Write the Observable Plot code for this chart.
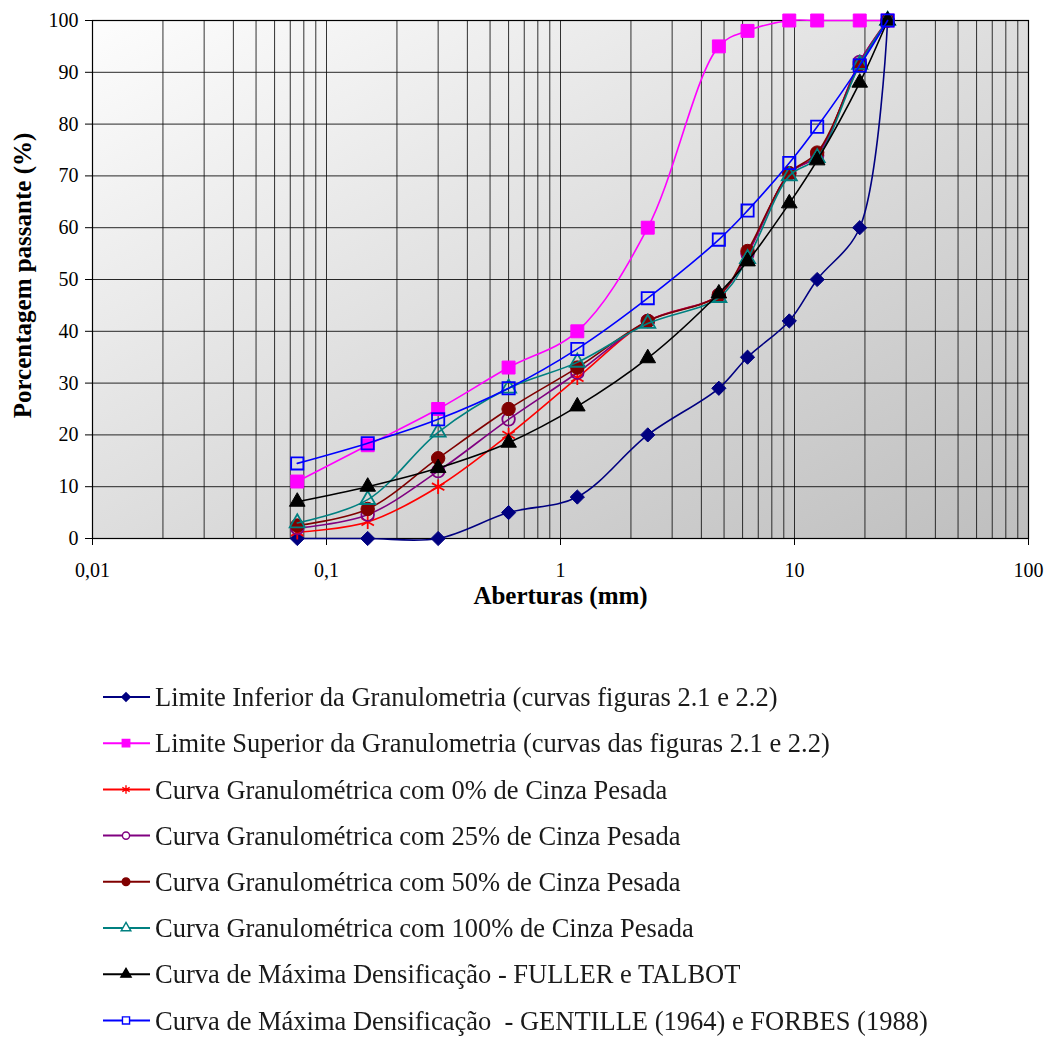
<!DOCTYPE html>
<html>
<head>
<meta charset="utf-8">
<script src="https://cdn.jsdelivr.net/npm/d3@7"></script>
<script src="https://cdn.jsdelivr.net/npm/@observablehq/plot@0.6"></script>
<style>
  body { margin: 0; background: #fff; }
  #chart svg { display: block; }
  #legend { display: block; filter: blur(0.35px); }
  #legend text { white-space: pre; }
</style>
</head>
<body>
<div id="chart"></div>
<script>
// Sieve openings (mm)
const aberturas = [0.075, 0.15, 0.3, 0.6, 1.18, 2.36, 4.75, 6.3, 9.5, 12.5, 19, 25];

// Percent passing for each curve
const limiteInferior = [0, 0, 0, 5, 8, 20, 29, 35, 42, 50, 60, 100];
const limiteSuperior = [11, 18, 25, 33, 40, 60, 95, 98, 100, 100, 100, 100];
const cinza0 = [1.2, 3.2, 10, 20, 31, 42, 47, 55, 70.5, 74, 92, 100];
const cinza25 = [2, 4.6, 13, 23, 32, 42, 47, 55, 70.5, 74, 92, 100];
const cinza50 = [2.5, 5.7, 15.5, 25, 33, 42, 47, 55.5, 70.5, 74.5, 91.5, 100];
const cinza100 = [3, 7.5, 20.5, 29, 34, 41.5, 46.5, 54, 70, 73.5, 91.5, 100];
const fullerTalbot = [7.1, 10, 13.6, 18.5, 25.5, 34.8, 47.3, 53.5, 64.7, 73, 88, 100];
const gentilleForbes = [14.5, 18.4, 23, 29, 36.6, 46.4, 57.7, 63.3, 72.5, 79.5, 91.3, 100];

const seriesNames = [
  "Limite Inferior da Granulometria (curvas figuras 2.1 e 2.2)",
  "Limite Superior da Granulometria (curvas das figuras 2.1 e 2.2)",
  "Curva Granulométrica com 0% de Cinza Pesada",
  "Curva Granulométrica com 25% de Cinza Pesada",
  "Curva Granulométrica com 50% de Cinza Pesada",
  "Curva Granulométrica com 100% de Cinza Pesada",
  "Curva de Máxima Densificação - FULLER e TALBOT",
  "Curva de Máxima Densificação  - GENTILLE (1964) e FORBES (1988)"
];
const seriesValues = [limiteInferior, limiteSuperior, cinza0, cinza25, cinza50, cinza100, fullerTalbot, gentilleForbes];

// Axis ticks and labels
const xTicks = [0.01, 0.1, 1, 10, 100];
const xTickLabels = ["0,01", "0,1", "1", "10", "100"];
const yTicks = [0, 10, 20, 30, 40, 50, 60, 70, 80, 90, 100];

// Marker / line styling per series
const styles = [
  {color: "#000080", symbol: "diamond2", fill: "#000080", r: 6.4, lr: 3.8},
  {color: "#ff00ff", symbol: "square", fill: "#ff00ff", r: 7.3, lr: 4.2},
  {color: "#ff0000", symbol: "asterisk", fill: "none", r: 6.8, lr: 4},
  {color: "#800080", symbol: "circle", fill: "none", r: 6.3, lr: 3.6},
  {color: "#800000", symbol: "circle", fill: "#800000", r: 6.7, lr: 3.8},
  {color: "#008080", symbol: "triangle", fill: "none", r: 5.6, lr: 3.6},
  {color: "#000000", symbol: "triangle", fill: "#000000", r: 5.8, lr: 3.8},
  {color: "#0000ff", symbol: "square", fill: "none", r: 6.9, lr: 4}
];

const series = seriesNames.map((name, k) => ({
  name,
  rows: aberturas.map((a, i) => ({abertura: a, passante: seriesValues[k][i]})),
  ...styles[k]
}));

// Log grid: every 1..9 multiple in each decade
const gridX = d3.scaleLog().domain([0.01, 100]).ticks();

const seriesMarks = series.flatMap(s => [
  Plot.line(s.rows, {x: "abertura", y: "passante", stroke: s.color, strokeWidth: 1.6, curve: "catmull-rom"}),
  Plot.dot(s.rows, {
    x: "abertura", y: "passante", symbol: s.symbol, r: s.r,
    fill: s.fill, stroke: s.color, strokeWidth: s.fill === "none" ? 1.8 : 1
  })
]);

const chart = Plot.plot({
  width: 1046,
  height: 625,
  marginLeft: 92,
  marginRight: 18,
  marginTop: 20,
  marginBottom: 87,
  style: {fontFamily: "'Liberation Serif', 'Times New Roman', serif", fontSize: "20px", color: "#000", background: "#fff"},
  x: {type: "log", domain: [0.01, 100], ticks: xTicks, tickFormat: d => xTickLabels[xTicks.indexOf(d)], tickSize: 7, tickPadding: 17, label: null},
  y: {domain: [0, 100], ticks: yTicks, tickSize: 7, tickPadding: 7, label: null},
  marks: [
    Plot.frame({fill: "url(#plotBg)"}),
    Plot.ruleX(gridX, {stroke: "#111", strokeWidth: 1, strokeOpacity: 0.85}),
    Plot.ruleY(yTicks, {stroke: "#111", strokeWidth: 1, strokeOpacity: 0.9}),
    Plot.frame({stroke: "#000", strokeWidth: 1.2}),
    ...seriesMarks,
    Plot.text(["Aberturas (mm)"], {text: d => d, frameAnchor: "bottom", textAnchor: "middle", dy: 65, fontWeight: "bold", fontSize: 25}),
    Plot.text(["Porcentagem passante (%)"], {text: d => d, frameAnchor: "left", textAnchor: "middle", dx: -70, dy: -4, rotate: -90, fontWeight: "bold", fontSize: 25})
  ]
});

// Diagonal light-to-grey background of the plotting area
d3.select(chart).insert("defs", ":first-child").html(`
  <linearGradient id="plotBg" x1="0" y1="0" x2="1" y2="1">
    <stop offset="0" stop-color="#fdfdfd"/>
    <stop offset="1" stop-color="#bebebe"/>
  </linearGradient>`);

document.getElementById("chart").appendChild(chart);

// Legend below the chart
const legendRowStart = 72, legendRowStep = 46.2;
const legend = d3.create("svg")
  .attr("id", "legend")
  .attr("width", 1046)
  .attr("height", 412);

const sym = name => ({
  diamond2: d3.symbolDiamond2, square: d3.symbolSquare, asterisk: d3.symbolAsterisk,
  circle: d3.symbolCircle, triangle: d3.symbolTriangle
})[name];

series.forEach((s, i) => {
  const g = legend.append("g").attr("transform", `translate(0,${legendRowStart + i * legendRowStep})`);
  g.append("line").attr("x1", 103).attr("x2", 150).attr("y1", 0).attr("y2", 0)
    .attr("stroke", s.color).attr("stroke-width", 2);
  g.append("path")
    .attr("transform", "translate(126,0)")
    .attr("d", d3.symbol(sym(s.symbol), Math.PI * s.lr * s.lr)())
    .attr("fill", s.fill === "none" ? "#fff" : s.fill)
    .attr("stroke", s.color)
    .attr("stroke-width", 1.4);
  g.append("text")
    .attr("x", 155).attr("y", 0).attr("dy", "0.35em")
    .attr("font-family", "'Liberation Serif', 'Times New Roman', serif")
    .attr("font-size", 26.5)
    .attr("fill", "#1a1a1a")
    .text(s.name);
});

document.body.appendChild(legend.node());
</script>
</body>
</html>
